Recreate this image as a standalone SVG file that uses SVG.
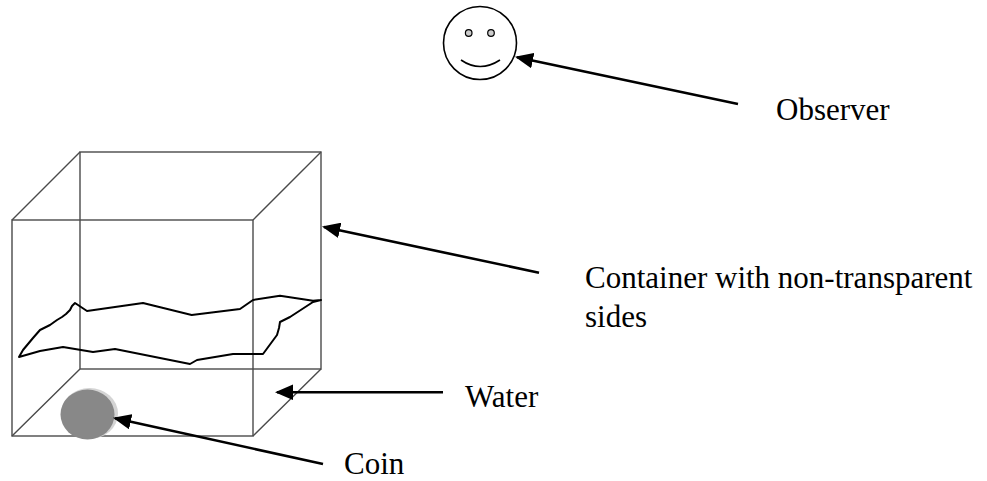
<svg xmlns="http://www.w3.org/2000/svg" width="987" height="481" viewBox="0 0 987 481">
  <style>
    .edge { fill: none; stroke: #4a4a4a; stroke-width: 1.4; }
    .ink { fill: none; stroke: #000; stroke-width: 2; stroke-linejoin: round; stroke-linecap: round; }
    .label { font-family: "Liberation Serif", "Times New Roman", serif; font-size: 31px; fill: #000; }
    .pointer { stroke: #000; stroke-width: 2.6; fill: none; marker-end: url(#head); }
  </style>
  <defs>
    <marker id="head" markerWidth="7" markerHeight="6" refX="6.2" refY="3" orient="auto" markerUnits="strokeWidth">
      <path d="M0,0 L7,3 L0,6 Z" fill="#000"/>
    </marker>
  </defs>
  <rect width="987" height="481" fill="#fff"/>

  <!-- observer face -->
  <g id="observer">
    <circle cx="480" cy="43" r="36.5" fill="none" stroke="#000" stroke-width="1.6"/>
    <circle cx="468.7" cy="33" r="3.3" fill="#ccc" stroke="#000" stroke-width="1.2"/>
    <circle cx="491" cy="33" r="3.3" fill="#ccc" stroke="#000" stroke-width="1.2"/>
    <path d="M461,60 Q480,73 500,60" fill="none" stroke="#000" stroke-width="1.6"/>
  </g>

  <!-- container: wireframe cube -->
  <g id="container">
    <rect class="edge" x="80" y="152" width="241" height="217"/>
    <rect class="edge" x="12" y="220" width="241" height="216"/>
    <path class="edge" d="M12,220 L80,152 M253,220 L321,152 M12,436 L80,369 M253,436 L321,369"/>
  </g>

  <!-- water surface -->
  <g id="water">
    <path class="ink" d="M321,300 L313,300.7 L280,295.7 L253,300 L240,309 L191.7,315 L143,303 L87,311 L75,303 L72,306 L70,310 L66,314 L62,317 L57,320 L50,325 L40,330 L33,338 L23,350 L19,357 L40,351 L63,347 L93,352 L115,349 L190,364 L197,360 L233,354 L263,354 L277,335 L279,328 L280,322 L290,317 L313,302 L321,300"/>
  </g>

  <!-- coin -->
  <g id="coin">
    <ellipse cx="89.5" cy="413.5" rx="28.5" ry="25.5" fill="#d4d4d4"/>
    <ellipse cx="87.5" cy="414.5" rx="27" ry="25" fill="#888"/>
  </g>

  <!-- pointers -->
  <g id="connectors">
    <line class="pointer" x1="738" y1="104" x2="517" y2="57.3"/>
    <line class="pointer" x1="539" y1="272.7" x2="324" y2="227"/>
    <line class="pointer" x1="443" y1="392.3" x2="277" y2="392.3"/>
    <line class="pointer" x1="323" y1="464" x2="115" y2="418.3"/>
  </g>

  <!-- labels -->
  <g id="labels">
    <text class="label" x="776" y="120">Observer</text>
    <text class="label" x="585" y="288">Container with non-transparent</text>
    <text class="label" x="585" y="327">sides</text>
    <text class="label" x="465" y="407">Water</text>
    <text class="label" x="344" y="474">Coin</text>
  </g>
</svg>
